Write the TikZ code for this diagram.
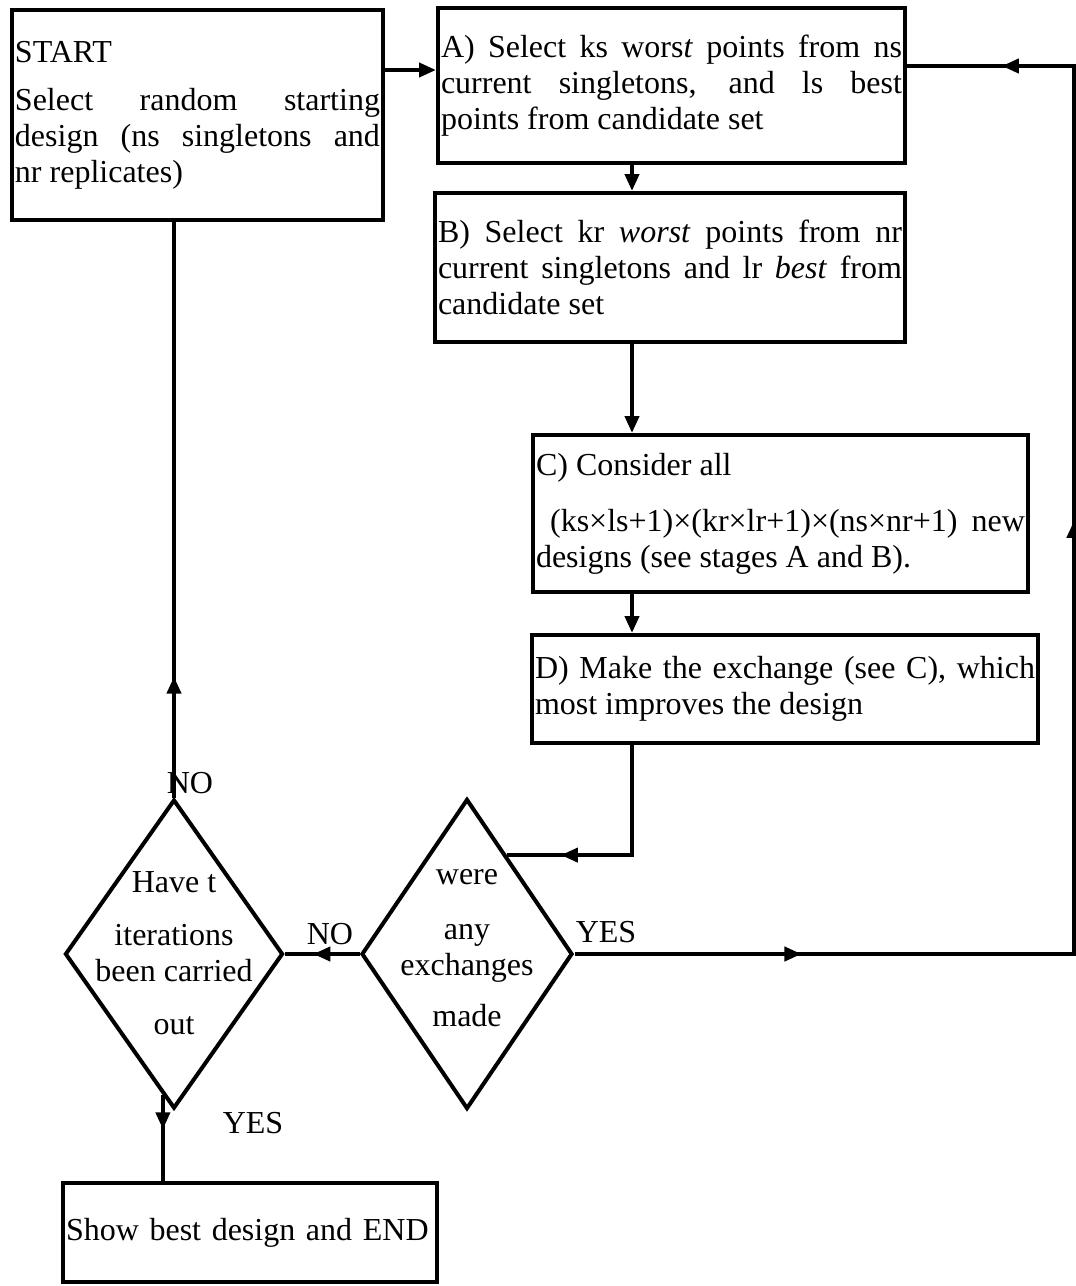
\documentclass[tikz,border=0pt]{standalone}
\usepackage{fontspec}
\setmainfont{Liberation Serif}
\setlength{\parindent}{0pt}
\usetikzlibrary{arrows.meta,calc,shapes.geometric,decorations.markings}

\begin{document}
\begin{tikzpicture}[x=1pt,y=-1pt,line width=4pt,
>={Triangle[length=17pt,width=14pt]},
every node/.style={font=\fontsize{32}{36}\selectfont},
box/.style={draw,rectangle,align=justify,inner xsep=3pt,inner ysep=0pt},
dec/.style={draw,diamond,inner sep=0pt,minimum width=218pt,minimum height=309pt},
txt/.style={align=center,inner sep=0pt},
tipat/.style={postaction={decorate},decoration={markings,mark=at position #1 with {\arrow{>}}}}]
\useasboundingbox (0,0) rectangle (1076,1286);
% process boxes
\node[box,text width=365pt,minimum height=210pt] (start) at (197.5,115) {START\par\vspace{12pt}Select random starting\linebreak design (ns singletons and\linebreak nr replicates)};
\node[box,text width=461pt,minimum height=155pt] (A) at (671.5,85.5) {A) Select ks wors\textit{t} points from ns\linebreak current singletons, and ls best\linebreak points from candidate set};
\node[box,text width=464pt,minimum height=149pt] (B) at (670,267.5) {B) Select kr \textit{worst} points from nr\linebreak current singletons and lr \textit{best} from\linebreak candidate set};
\node[box,text width=489pt,minimum height=157pt] (C) at (780.5,513.5) {C) Consider all\par\vspace{20pt}\ (ks×ls+1)×(kr×lr+1)×(ns×nr+1) new\linebreak designs (see stages A and B).};
\node[box,text width=500pt,minimum height=108pt] (D) at (785,689) {D) Make the exchange (see C), which\linebreak most improves the design};
\node[box,text width=368pt,minimum height=99pt,align=left] (show) at (250,1232.5) {Show best design and END};
% decisions
\node[dec] (iter) at (174,954) {};
\node[txt] (itertxt) at (174,953) {Have t\\[17pt]iterations\\been carried\\[17pt]out};
\node[dec,minimum width=211pt,minimum height=310pt] (check) at (467,954) {};
\node[txt] (checktxt) at (467,948) {were\\[19pt]any\\exchanges\\[15pt]made};
% labels
\node (no1) at (190,783) {NO};
\node (no2) at (330,934) {NO};
\node (yes1) at (606,932) {YES};
\node (yes2) at (253,1123) {YES};
% connectors
\coordinate (col) at (632,0);
\coordinate (row) at (0,70);
\coordinate (rtop) at (1074,66);
\coordinate (dhit) at ($(check.north)!0.37!(check.east)$);
\coordinate (ydown) at ($(iter.south)!0.1!(iter.west)$);
\draw[->] (start.east |- row) -- (A.west |- row);
\draw[->] (A.south -| col) -- (B.north -| col);
\draw[->] (B.south -| col) -- (C.north -| col);
\draw[->] (C.south -| col) -- (D.north -| col);
\draw[tipat=0.77] (D.south -| col) |- (dhit);
\draw[tipat=0.62] (check.west) -- (iter.east);
\draw[tipat=0.21] (iter.north) -- (iter.north |- start.south);
\draw[tipat=0.4] (ydown) -- (ydown |- show.north);
\draw[postaction={decorate},decoration={markings,mark=at position 0.146 with {\arrow{>}},
  mark=at position 0.6 with {\arrow{>}},mark=at position 0.939 with {\arrow{>}}}]
  (check.east) -| (rtop) -- (rtop -| A.east);
\end{tikzpicture}
\end{document}
